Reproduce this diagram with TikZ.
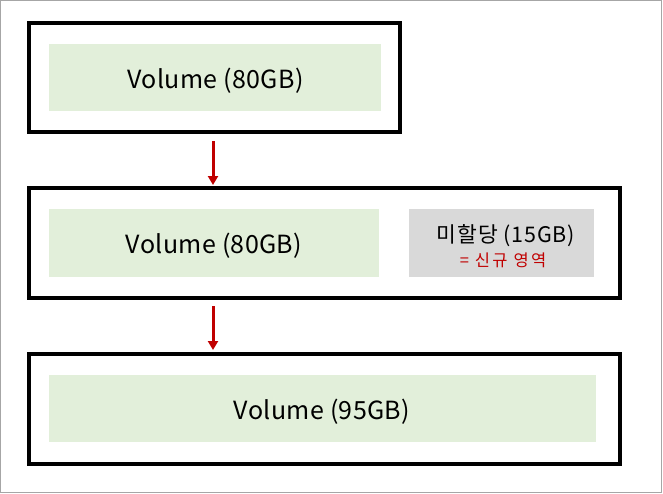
\documentclass[tikz,border=0pt]{standalone}
\usepackage{fontspec}
\setmainfont{Noto Sans CJK KR}
\usetikzlibrary{arrows.meta}
\definecolor{vgreen}{HTML}{E2EFDA}
\definecolor{ugray}{HTML}{D9D9D9}
\definecolor{ared}{HTML}{C00000}
\tikzset{
  frame/.style={draw=black,line width=4pt},
  vol/.style={fill=vgreen,draw=none},
  una/.style={fill=ugray,draw=none},
  lbl/.style={font=\fontsize{25}{30}\selectfont\addfontfeatures{LetterSpace=1.5},inner sep=0pt,anchor=base},
  arr/.style={draw=ared,line width=3pt,-{Triangle[length=9pt,width=10pt]}}
}
\begin{document}
\begin{tikzpicture}[x=1pt,y=-1pt]
\useasboundingbox (0,0) rectangle (663,493);
\draw[draw=black!35,line width=1.2pt] (0.6,0.6) rectangle (661.8,492.2);
% box 1
\draw[frame] (29,23) rectangle (400,132);
\fill[vol] (49,44) rectangle (381,111);
\node[lbl] (v1) at (215.5,88) {Volume (80GB)};
% box 2
\draw[frame] (29,188) rectangle (620,298);
\fill[vol] (49,209) rectangle (379,277);
\node[lbl] (v2) at (214,253) {Volume (80GB)};
\fill[una] (409,209) rectangle (594,277);
\node[inner sep=0pt,anchor=base,font=\fontsize{21.5}{25}\selectfont\addfontfeatures{LetterSpace=4}] (u) at (506,242) {미할당 (15GB)};
\node[inner sep=0pt,anchor=base,text=ared,font=\fontsize{16.5}{20}\selectfont\addfontfeatures{LetterSpace=14}] (u2) at (503,266) {= 신규 영역};
% box 3
\draw[frame] (29,354) rectangle (620,464);
\fill[vol] (49,375) rectangle (596,442);
\node[lbl] (v3) at (322,419) {Volume (95GB)};
% arrows
\coordinate (a1s) at (213,141);
\coordinate (a1e) at (213,185);
\coordinate (a2s) at (213,306);
\coordinate (a2e) at (213,350);
\draw[arr] (a1s) -- (a1e);
\draw[arr] (a2s) -- (a2e);
\end{tikzpicture}
\end{document}
